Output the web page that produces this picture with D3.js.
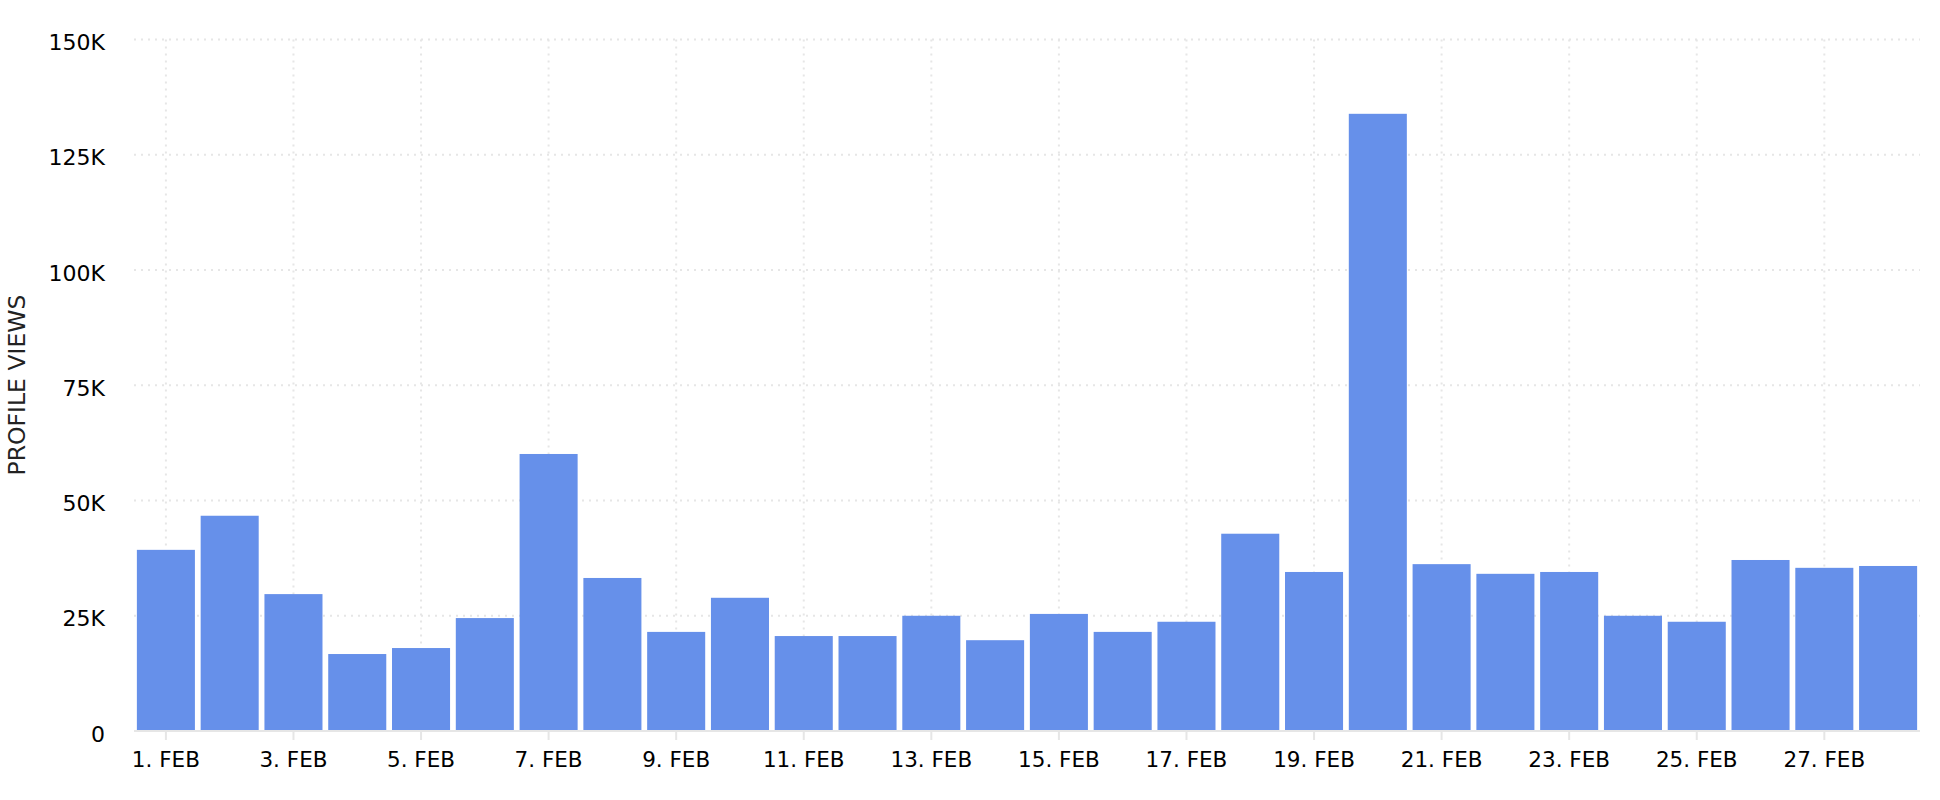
<!DOCTYPE html>
<html>
<head>
<meta charset="utf-8">
<script src="https://cdn.jsdelivr.net/npm/d3@7"></script>
<style>
  body { margin: 0; background: #fff; }
  text { font-family: "DejaVu Sans", sans-serif; }
</style>
</head>
<body>
<svg id="chart" width="1940" height="800"></svg>
<script>
const days = d3.range(1, 29).map(d => d + '. FEB')
const views = [39300, 46700, 29700, 16700, 18000, 24500, 60100, 33200, 21500, 28900,
  20600, 20600, 25000, 19700, 25400, 21500, 23700, 42800, 34500, 133900,
  36200, 34100, 34500, 25000, 23700, 37100, 35400, 35800]
const yTicks = [0, 25000, 50000, 75000, 100000, 125000, 150000]
const tickDays = days.filter((d, i) => i % 2 === 0)

const svg = d3.select('#chart')
const margin = { top: 39.6, right: 20, bottom: 69, left: 134 }
const width = 1940 - margin.left - margin.right
const height = 800 - margin.top - margin.bottom

const xScale = d3.scaleBand()
  .domain(days)
  .range([margin.left, margin.left + width])
  .paddingInner(0.09)
  .paddingOuter(0.045)

const yScale = d3.scaleLinear()
  .domain([0, 150000])
  .range([margin.top + height, margin.top])

const fmt = v => v === 0 ? '0' : (v / 1000) + 'K'

// grid
svg.append('g')
  .selectAll('line')
  .data(yTicks.slice(1))
  .enter()
  .append('line')
  .attr('x1', margin.left)
  .attr('x2', margin.left + width)
  .attr('y1', d => yScale(d))
  .attr('y2', d => yScale(d))
  .attr('stroke', '#e6e6e6')
  .attr('stroke-width', 2)
  .attr('stroke-dasharray', '2,5')

svg.append('g')
  .selectAll('line')
  .data(tickDays)
  .enter()
  .append('line')
  .attr('x1', d => xScale(d) + xScale.bandwidth() / 2)
  .attr('x2', d => xScale(d) + xScale.bandwidth() / 2)
  .attr('y1', margin.top)
  .attr('y2', margin.top + height)
  .attr('stroke', '#e6e6e6')
  .attr('stroke-width', 2)
  .attr('stroke-dasharray', '2,5')

// bars
svg.append('g')
  .selectAll('rect')
  .data(views)
  .enter()
  .append('rect')
  .attr('x', (d, i) => xScale(days[i]))
  .attr('y', d => yScale(d))
  .attr('width', xScale.bandwidth())
  .attr('height', d => yScale(0) - yScale(d))
  .attr('fill', '#6690ea')

// x axis
const bottomAxis = d3.axisBottom(xScale)
  .tickValues(tickDays)
  .tickSize(9)
  .tickPadding(12)
const xg = svg.append('g')
  .attr('transform', `translate(0, ${margin.top + height})`)
  .call(bottomAxis)
xg.select('.domain').attr('stroke', '#e6e6e6').attr('stroke-width', 2)
  .attr('d', `M${margin.left},0H${margin.left + width}`)
xg.selectAll('.tick line').attr('stroke', '#e6e6e6').attr('stroke-width', 2)
xg.selectAll('.tick text')
  .attr('fill', '#000')
  .style('font-size', '21.5px')
  .style('font-family', '"DejaVu Sans", sans-serif')

// y labels
svg.append('g')
  .selectAll('text')
  .data(yTicks)
  .enter()
  .append('text')
  .attr('x', 105)
  .attr('y', d => yScale(d) + 10.5)
  .attr('text-anchor', 'end')
  .attr('fill', '#000')
  .style('font-size', '22px')
  .text(fmt)

// y title
svg.append('text')
  .attr('transform', 'translate(25, 385) rotate(-90)')
  .attr('text-anchor', 'middle')
  .attr('fill', '#222')
  .style('font-size', '23.5px')
  .text('PROFILE VIEWS')
</script>
</body>
</html>
